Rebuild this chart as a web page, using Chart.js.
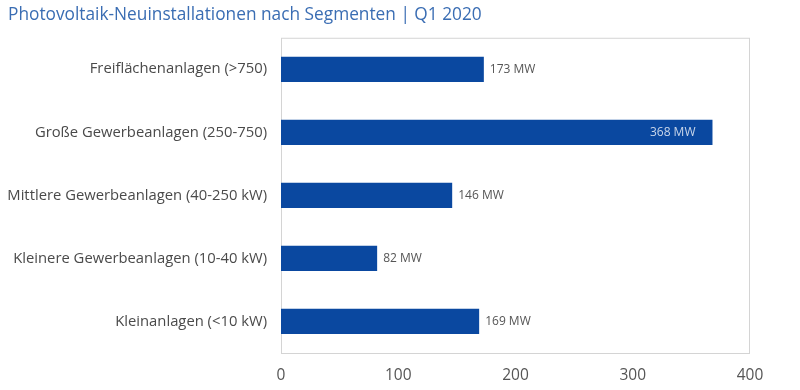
<!DOCTYPE html>
<html lang="de">
<head>
    <meta charset="UTF-8">
    <title>PV Neuinstallationen Q1 2020</title>
    <script src="https://cdn.jsdelivr.net/npm/chart.js@4.4.0/dist/chart.umd.min.js"></script>
    <style>
        html, body { margin: 0; padding: 0; background: #fff; }
        #wrap { width: 800px; height: 390px; }
    </style>
</head>
<body>
    <div id="wrap"><canvas id="chart" width="800" height="390"></canvas></div>

    <script>
        // data
        const segments = [
            'Freiflächenanlagen (>750)',
            'Große Gewerbeanlagen (250-750)',
            'Mittlere Gewerbeanlagen (40-250 kW)',
            'Kleinere Gewerbeanlagen (10-40 kW)',
            'Kleinanlagen (<10 kW)'
        ];
        const installedMW = [173, 368, 146, 82, 169];
        const xTicks = [0, 100, 200, 300, 400];

        const fontName = '"Open Sans", "Noto Sans", sans-serif';

        // box round the plot area
        const plotBorder = {
            id: 'plotBorder',
            beforeDatasetsDraw(chart) {
                const a = chart.chartArea;
                const ctx = chart.ctx;
                ctx.save();
                ctx.strokeStyle = '#d4d4d4';
                ctx.lineWidth = 1;
                ctx.strokeRect(a.left + 0.5, a.top + 0.5, a.right - a.left - 1, a.bottom - a.top);
                ctx.restore();
            }
        };

        // "xxx MW" labels next to (or inside) the bars
        const valueLabels = {
            id: 'valueLabels',
            afterDatasetsDraw(chart) {
                const ctx = chart.ctx;
                const meta = chart.getDatasetMeta(0);
                ctx.save();
                ctx.font = '12px ' + fontName;
                ctx.textBaseline = 'middle';
                meta.data.forEach((bar, i) => {
                    const v = installedMW[i];
                    const text = v + ' MW';
                    if (v > 300) {
                        ctx.fillStyle = '#c9d6ea';
                        ctx.textAlign = 'right';
                        ctx.fillText(text, bar.x - 17, bar.y);
                    } else {
                        ctx.fillStyle = '#555';
                        ctx.textAlign = 'left';
                        ctx.fillText(text, bar.x + 6, bar.y);
                    }
                });
                ctx.restore();
            }
        };

        const ctx = document.getElementById('chart').getContext('2d');
        new Chart(ctx, {
            type: 'bar',
            data: {
                labels: segments,
                datasets: [{
                    data: installedMW,
                    backgroundColor: '#0a48a0',
                    borderWidth: 0,
                    categoryPercentage: 0.8,
                    barPercentage: 0.5
                }]
            },
            options: {
                indexAxis: 'y',
                responsive: false,
                animation: false,
                layout: { padding: { left: 8, right: 50, top: 0, bottom: 0 } },
                plugins: {
                    legend: { display: false },
                    tooltip: { enabled: false },
                    title: {
                        display: true,
                        text: 'Photovoltaik-Neuinstallationen nach Segmenten | Q1 2020',
                        align: 'start',
                        color: '#3a6db3',
                        font: { family: fontName, size: 17.3, weight: 'normal' },
                        padding: { top: 5, bottom: 12 }
                    }
                },
                scales: {
                    x: {
                        min: 0,
                        max: 400,
                        afterBuildTicks(scale) {
                            scale.ticks = xTicks.map(v => ({ value: v }));
                        },
                        afterFit(scale) { scale.height = 37; },
                        grid: { display: false },
                        border: { display: false },
                        ticks: {
                            color: '#555',
                            padding: 5,
                            font: { family: fontName, size: 15.5 }
                        }
                    },
                    y: {
                        afterFit(scale) { scale.width = 273; },
                        grid: { display: false },
                        border: { display: false },
                        ticks: {
                            color: '#4a4a4a',
                            padding: 6,
                            font: { family: fontName, size: 14.8 }
                        }
                    }
                }
            },
            plugins: [plotBorder, valueLabels]
        });
    </script>
</body>
</html>
